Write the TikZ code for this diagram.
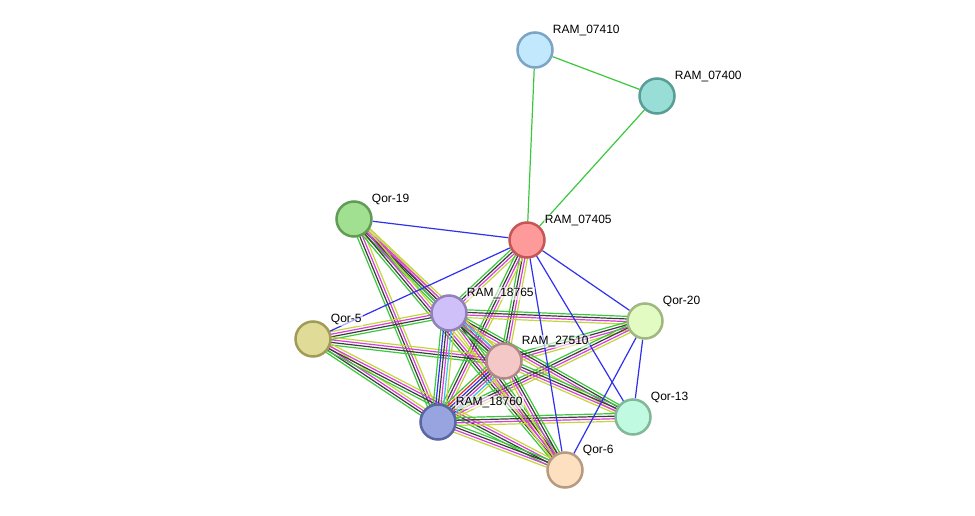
\documentclass[tikz,border=0pt]{standalone}
\usepackage{fontspec}
\setmainfont{Liberation Sans}
\usetikzlibrary{calc,backgrounds}

\definecolor{sg}{HTML}{3CC83C}
\definecolor{sk}{HTML}{3C3C3C}
\definecolor{sm}{HTML}{D83ED8}
\definecolor{sy}{HTML}{C4D63A}
\definecolor{sb}{HTML}{3030EE}
\definecolor{sc}{HTML}{38C4E4}
\definecolor{sr}{HTML}{EE2A2A}

\newcommand\bundle[3]{%
  \foreach \col [count=\k] in {#3} {\xdef\nstrand{\k}}%
  \foreach \col [count=\k] in {#3} {%
    \pgfmathsetmacro\off{(\k-(\nstrand+1)/2)*2.6}%
    \draw[edge,color=\col] ($(#1.center)!\off pt!90:(#2.center)$) -- ($(#2.center)!\off pt!-90:(#1.center)$);}}

\begin{document}
\begin{tikzpicture}[
  x=1pt,y=-1pt,
  prot/.style={circle,line width=2.5pt,minimum size=35pt,inner sep=0pt},
  lbl/.style={font=\fontsize{12}{14}\selectfont,inner sep=1pt,text height=8.6pt,text depth=2pt,
    fill=white,fill opacity=.6,text opacity=1,xshift=3.5pt},
  edge/.style={line width=1.2pt}
]
  \node[prot,fill={rgb,255:red,194;green,232;blue,253},draw={rgb,255:red,124;green,164;blue,196},label={[lbl]45:RAM\_07410}] (r07410) at (535,50) {};
  \node[prot,fill={rgb,255:red,153;green,222;blue,214},draw={rgb,255:red,88;green,158;blue,150},label={[lbl]45:RAM\_07400}] (r07400) at (657,96) {};
  \node[prot,fill={rgb,255:red,255;green,154;blue,154},draw={rgb,255:red,196;green,86;blue,86},label={[lbl]45:RAM\_07405}] (r07405) at (527,240) {};
  \node[prot,fill={rgb,255:red,160;green,224;blue,144},draw={rgb,255:red,96;green,156;blue,86},label={[lbl]45:Qor-19}] (qor19) at (354,219) {};
  \node[prot,fill={rgb,255:red,208;green,192;blue,250},draw={rgb,255:red,146;green,128;blue,184},label={[lbl]45:RAM\_18765}] (r18765) at (449,313) {};
  \node[prot,fill={rgb,255:red,224;green,220;blue,152},draw={rgb,255:red,160;green,156;blue,88},label={[lbl]45:Qor-5}] (qor5) at (313,339) {};
  \node[prot,fill={rgb,255:red,226;green,251;blue,194},draw={rgb,255:red,160;green,184;blue,128},label={[lbl]45:Qor-20}] (qor20) at (645,321) {};
  \node[prot,fill={rgb,255:red,245;green,200;blue,200},draw={rgb,255:red,176;green,136;blue,136},label={[lbl]45:RAM\_27510}] (r27510) at (504,361) {};
  \node[prot,fill={rgb,255:red,152;green,164;blue,224},draw={rgb,255:red,90;green,102;blue,160},label={[lbl]45:RAM\_18760}] (r18760) at (438,422) {};
  \node[prot,fill={rgb,255:red,192;green,250;blue,224},draw={rgb,255:red,128;green,184;blue,152},label={[lbl]45:Qor-13}] (qor13) at (633,417) {};
  \node[prot,fill={rgb,255:red,253;green,224;blue,192},draw={rgb,255:red,184;green,154;blue,128},label={[lbl]45:Qor-6}] (qor6) at (565,470) {};

  \begin{scope}[on background layer]
    \fill[white] (0,0) rectangle (975,516);
    \useasboundingbox (0,0) rectangle (975,516);
    \draw[edge,sg] (r07410) -- (r07400);
    \draw[edge,sg] (r07410) -- (r07405);
    \draw[edge,sg] (r07400) -- (r07405);
    \bundle{r07405}{r18765}{sg,sk,sm,sy}
    \bundle{r07405}{r27510}{sg,sk,sm,sy}
    \bundle{r07405}{r18760}{sg,sk,sm,sy}
    \bundle{qor19}{r18765}{sg,sk,sm,sy}
    \bundle{qor19}{r27510}{sg,sk,sm,sy}
    \bundle{qor19}{r18760}{sg,sk,sm,sy}
    \bundle{qor19}{qor6}{sg,sk,sm,sy}
    \bundle{qor5}{r18765}{sg,sk,sm,sy}
    \bundle{qor5}{r27510}{sg,sk,sm,sy}
    \bundle{qor5}{r18760}{sg,sk,sm,sy}
    \bundle{qor5}{qor6}{sg,sk,sm,sy}
    \bundle{qor20}{r18765}{sg,sk,sm,sy}
    \bundle{qor20}{r27510}{sg,sk,sm,sy}
    \bundle{qor20}{r18760}{sg,sk,sm,sy}
    \bundle{qor13}{r18765}{sg,sk,sm,sy}
    \bundle{qor13}{r27510}{sg,sk,sm,sy}
    \bundle{qor13}{r18760}{sg,sk,sm,sy}
    \bundle{qor6}{r18765}{sg,sk,sm,sy}
    \bundle{qor6}{r27510}{sg,sk,sm,sy}
    \bundle{qor6}{r18760}{sg,sk,sm,sy}
    \bundle{r18765}{r27510}{sg,sk,sm,sc,sy}
    \bundle{r18765}{r18760}{sg,sb,sk,sm,sc,sy}
    \bundle{r27510}{r18760}{sg,sr,sb,sk,sm,sc,sy}
    \draw[edge,sb] (r07405) -- (qor19);
    \draw[edge,sb] (r07405) -- (qor5);
    \draw[edge,sb] (r07405) -- (qor20);
    \draw[edge,sb] (r07405) -- (qor13);
    \draw[edge,sb] (r07405) -- (qor6);
    \draw[edge,sb] (qor20) -- (qor13);
    \draw[edge,sb] (qor20) -- (qor6);
  \end{scope}
\end{tikzpicture}
\end{document}
